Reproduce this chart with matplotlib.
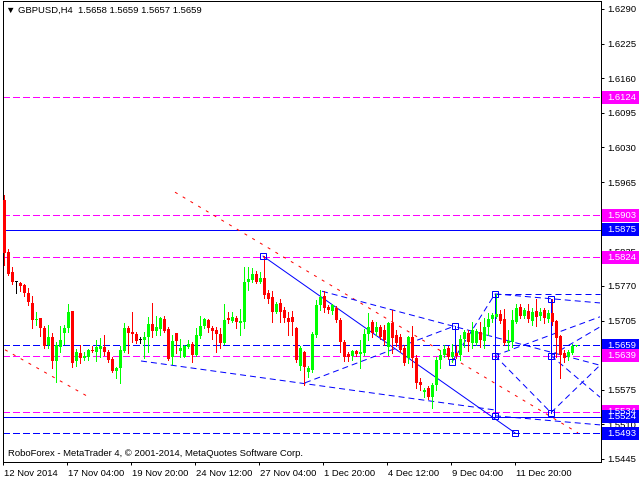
import matplotlib
matplotlib.use("Agg")
import matplotlib.pyplot as plt
from matplotlib.patches import Rectangle
import matplotlib.transforms as mtransforms

plt.rcParams["font.family"] = ["Liberation Sans", "DejaVu Sans"]

# GBPUSD H4 candles, one entry per bar (bar 0 = 12 Nov 2014 12:00)
opens = [
    1.5931, 1.5834, 1.5796, 1.5777, 1.5775, 1.5772, 1.5757, 1.5738, 1.5706, 1.5710,
    1.5691, 1.5659, 1.5674, 1.5629, 1.5655, 1.5682, 1.5691, 1.5723, 1.5629, 1.5644,
    1.5635, 1.5636, 1.5650, 1.5646, 1.5651, 1.5655, 1.5646, 1.5633, 1.5610, 1.5616,
    1.5648, 1.5691, 1.5683, 1.5680, 1.5668, 1.5668, 1.5674, 1.5698, 1.5685, 1.5689,
    1.5708, 1.5689, 1.5636, 1.5682, 1.5648, 1.5636, 1.5655, 1.5661, 1.5640, 1.5676,
    1.5695, 1.5706, 1.5691, 1.5687, 1.5680, 1.5663, 1.5710, 1.5704, 1.5710, 1.5700,
    1.5702, 1.5777, 1.5781, 1.5792, 1.5777, 1.5785, 1.5757, 1.5749, 1.5721, 1.5738,
    1.5725, 1.5710, 1.5712, 1.5691, 1.5619, 1.5646, 1.5608, 1.5612, 1.5678, 1.5734,
    1.5751, 1.5730, 1.5723, 1.5728, 1.5706, 1.5665, 1.5642, 1.5638, 1.5648, 1.5642,
    1.5644, 1.5680, 1.5702, 1.5683, 1.5693, 1.5687, 1.5655, 1.5700, 1.5678, 1.5674,
    1.5653, 1.5635, 1.5674, 1.5635, 1.5589, 1.5571, 1.5578, 1.5561, 1.5584, 1.5631,
    1.5640, 1.5653, 1.5636, 1.5644, 1.5640, 1.5670, 1.5682, 1.5663, 1.5663, 1.5683,
    1.5666, 1.5693, 1.5708, 1.5712, 1.5717, 1.5708, 1.5663, 1.5665, 1.5702, 1.5730,
    1.5713, 1.5723, 1.5704, 1.5723, 1.5713, 1.5725, 1.5708, 1.5719, 1.5704, 1.5676,
    1.5644, 1.5636, 1.5644, 1.5658,
]
highs = [
    1.5941, 1.5839, 1.5806, 1.5779, 1.5777, 1.5774, 1.5766, 1.5751, 1.5721, 1.5710,
    1.5695, 1.5697, 1.5682, 1.5665, 1.5695, 1.5697, 1.5736, 1.5723, 1.5651, 1.5659,
    1.5646, 1.5651, 1.5657, 1.5668, 1.5672, 1.5678, 1.5650, 1.5636, 1.5618, 1.5657,
    1.5700, 1.5695, 1.5721, 1.5683, 1.5674, 1.5683, 1.5712, 1.5738, 1.5713, 1.5712,
    1.5713, 1.5693, 1.5678, 1.5682, 1.5670, 1.5659, 1.5668, 1.5665, 1.5691, 1.5713,
    1.5710, 1.5708, 1.5695, 1.5693, 1.5691, 1.5736, 1.5721, 1.5721, 1.5713, 1.5727,
    1.5806, 1.5806, 1.5804, 1.5798, 1.5796, 1.5826, 1.5762, 1.5760, 1.5740, 1.5745,
    1.5730, 1.5721, 1.5723, 1.5693, 1.5657, 1.5648, 1.5619, 1.5683, 1.5744, 1.5762,
    1.5760, 1.5734, 1.5736, 1.5732, 1.5710, 1.5668, 1.5646, 1.5650, 1.5650, 1.5668,
    1.5689, 1.5719, 1.5706, 1.5702, 1.5697, 1.5697, 1.5702, 1.5725, 1.5687, 1.5680,
    1.5659, 1.5676, 1.5695, 1.5640, 1.5597, 1.5578, 1.5582, 1.5588, 1.5636, 1.5650,
    1.5659, 1.5657, 1.5661, 1.5659, 1.5678, 1.5687, 1.5687, 1.5702, 1.5689, 1.5702,
    1.5710, 1.5719, 1.5719, 1.5755, 1.5725, 1.5727, 1.5687, 1.5725, 1.5736, 1.5736,
    1.5728, 1.5736, 1.5728, 1.5745, 1.5728, 1.5728, 1.5725, 1.5745, 1.5706, 1.5678,
    1.5650, 1.5650, 1.5660, 1.5659,
]
lows = [
    1.5809, 1.5790, 1.5774, 1.5757, 1.5760, 1.5751, 1.5734, 1.5691, 1.5697, 1.5676,
    1.5653, 1.5653, 1.5616, 1.5589, 1.5646, 1.5661, 1.5683, 1.5618, 1.5619, 1.5625,
    1.5631, 1.5631, 1.5646, 1.5629, 1.5636, 1.5640, 1.5627, 1.5608, 1.5597, 1.5588,
    1.5646, 1.5644, 1.5665, 1.5663, 1.5663, 1.5635, 1.5646, 1.5674, 1.5678, 1.5678,
    1.5683, 1.5631, 1.5623, 1.5644, 1.5636, 1.5636, 1.5653, 1.5627, 1.5638, 1.5672,
    1.5691, 1.5683, 1.5670, 1.5646, 1.5653, 1.5661, 1.5700, 1.5702, 1.5691, 1.5678,
    1.5691, 1.5762, 1.5777, 1.5775, 1.5775, 1.5747, 1.5738, 1.5702, 1.5719, 1.5702,
    1.5702, 1.5678, 1.5678, 1.5627, 1.5612, 1.5584, 1.5599, 1.5608, 1.5674, 1.5725,
    1.5721, 1.5719, 1.5717, 1.5702, 1.5646, 1.5629, 1.5629, 1.5631, 1.5638, 1.5616,
    1.5640, 1.5668, 1.5674, 1.5678, 1.5670, 1.5659, 1.5640, 1.5644, 1.5657, 1.5646,
    1.5621, 1.5625, 1.5618, 1.5578, 1.5574, 1.5561, 1.5557, 1.5541, 1.5574, 1.5616,
    1.5636, 1.5633, 1.5627, 1.5635, 1.5631, 1.5655, 1.5648, 1.5653, 1.5659, 1.5655,
    1.5653, 1.5678, 1.5702, 1.5710, 1.5700, 1.5659, 1.5650, 1.5655, 1.5700, 1.5710,
    1.5710, 1.5702, 1.5697, 1.5695, 1.5706, 1.5700, 1.5702, 1.5697, 1.5636, 1.5597,
    1.5627, 1.5631, 1.5642, 1.5657,
]
closes = [
    1.5832, 1.5792, 1.5777, 1.5777, 1.5770, 1.5757, 1.5740, 1.5706, 1.5708, 1.5691,
    1.5657, 1.5674, 1.5629, 1.5659, 1.5668, 1.5691, 1.5721, 1.5625, 1.5646, 1.5635,
    1.5638, 1.5650, 1.5648, 1.5655, 1.5657, 1.5646, 1.5631, 1.5610, 1.5616, 1.5650,
    1.5691, 1.5682, 1.5680, 1.5666, 1.5668, 1.5674, 1.5698, 1.5685, 1.5693, 1.5710,
    1.5685, 1.5633, 1.5666, 1.5666, 1.5653, 1.5657, 1.5661, 1.5640, 1.5678, 1.5695,
    1.5708, 1.5691, 1.5685, 1.5680, 1.5663, 1.5706, 1.5706, 1.5712, 1.5702, 1.5704,
    1.5777, 1.5783, 1.5792, 1.5777, 1.5785, 1.5753, 1.5745, 1.5721, 1.5736, 1.5721,
    1.5710, 1.5702, 1.5702, 1.5631, 1.5653, 1.5618, 1.5616, 1.5680, 1.5734, 1.5749,
    1.5728, 1.5725, 1.5734, 1.5706, 1.5665, 1.5636, 1.5636, 1.5648, 1.5642, 1.5646,
    1.5680, 1.5693, 1.5682, 1.5693, 1.5674, 1.5668, 1.5700, 1.5672, 1.5663, 1.5650,
    1.5625, 1.5674, 1.5635, 1.5588, 1.5584, 1.5574, 1.5561, 1.5584, 1.5631, 1.5640,
    1.5651, 1.5636, 1.5646, 1.5638, 1.5670, 1.5683, 1.5665, 1.5687, 1.5685, 1.5668,
    1.5693, 1.5708, 1.5715, 1.5717, 1.5704, 1.5663, 1.5666, 1.5706, 1.5728, 1.5713,
    1.5725, 1.5708, 1.5721, 1.5712, 1.5721, 1.5710, 1.5719, 1.5702, 1.5672, 1.5640,
    1.5635, 1.5646, 1.5658, 1.5659,
]

date_labels = ["12 Nov 2014", "17 Nov 04:00", "19 Nov 20:00", "24 Nov 12:00", "27 Nov 04:00",
               "1 Dec 20:00", "4 Dec 12:00", "9 Dec 04:00", "11 Dec 20:00"]
date_bars = [0, 16, 32, 48, 64, 80, 96, 112, 128]
price_ticks = [1.5445, 1.5510, 1.5575, 1.5640, 1.5705, 1.5770, 1.5835, 1.5900,
               1.5965, 1.6030, 1.6095, 1.6160, 1.6225, 1.6290]
hidden_ticks = [1.5640, 1.5900]  # fully covered by price tags in the terminal

# horizontal levels: price, colour, style (tags drawn in this order)
level_prices = [1.6124, 1.5903, 1.5875, 1.5824, 1.5659, 1.5639, 1.5534, 1.5524, 1.5493]
level_colors = ["#FF00FF", "#FF00FF", "#0000FF", "#FF00FF", "#0000FF", "#FF00FF",
                "#FF00FF", "#0000FF", "#0000FF"]
level_solid = [False, False, True, False, False, False, False, True, False]

# analyst drawings in (bar, price)
solid_segments = [
    ((64.75, 1.5826), (127.75, 1.5494)),
    ((122.75, 1.5755), (122.75, 1.5526)),
    ((136.75, 1.5745), (136.75, 1.5532)),
    ((112.75, 1.5695), (112.75, 1.5640)),
]
dashed_segments = [
    ((34.25, 1.5629), (122.75, 1.5537)),
    ((79.5, 1.5760), (149.0, 1.5621)),
    ((75.25, 1.5588), (112.75, 1.5695)),
    ((122.75, 1.5755), (149.0, 1.5755)),
    ((122.75, 1.5755), (149.0, 1.5738)),
    ((136.75, 1.5639), (149.0, 1.5693)),
    ((136.75, 1.5639), (149.0, 1.5561)),
    ((136.75, 1.5532), (149.0, 1.5621)),
    ((122.75, 1.5526), (149.0, 1.5509)),
    ((112.0, 1.5627), (122.75, 1.5755)),
    ((122.75, 1.5639), (149.0, 1.5712)),
    ((122.75, 1.5639), (136.75, 1.5532)),
]
red_segments = [
    ((42.75, 1.5946), (143.5, 1.5494)),
    ((0.25, 1.5650), (21.5, 1.5560)),
]
markers = [(64.75, 1.5826), (122.75, 1.5755), (122.75, 1.5639), (122.75, 1.5526),
           (136.75, 1.5745), (136.75, 1.5639), (136.75, 1.5532), (127.75, 1.5494),
           (112.75, 1.5695), (112.0, 1.5627)]

W, H = 640, 480
PX = 0.72  # one pixel in points
fig = plt.figure(figsize=(6.4, 4.8), dpi=100)
ax = fig.add_axes([2.5 / W, 18 / H, 598.5 / W, 461 / H])
ax.set_xlim(-0.375, 149.25)
ax.set_ylim(1.54393, 1.6305)

# levels
for p, c, s in zip(level_prices, level_colors, level_solid):
    if s:
        ax.axhline(p, color=c, lw=PX, zorder=1, antialiased=False)
    else:
        ax.axhline(p, color=c, lw=PX, dashes=(6, 4), zorder=1, antialiased=False)

for (x0, y0), (x1, y1) in red_segments:
    ax.plot([x0, x1], [y0, y1], color="#FF0000", lw=PX, dashes=(3, 6), zorder=1)
for (x0, y0), (x1, y1) in dashed_segments:
    ax.plot([x0, x1], [y0, y1], color="#0000FF", lw=PX, dashes=(6, 4), zorder=1)
for (x0, y0), (x1, y1) in solid_segments:
    ax.plot([x0, x1], [y0, y1], color="#0000FF", lw=PX, zorder=1)
ax.plot([m[0] for m in markers], [m[1] for m in markers], "s", ms=4.5,
        mfc="none", mec="#0000FF", mew=PX, zorder=4)

# candles
for i, (o, h, l, c) in enumerate(zip(opens, highs, lows, closes)):
    if c > o:
        col = "#00FF00"
    elif c < o:
        col = "#FF0000"
    else:
        col = "#000000"
    ax.vlines(i, l, h, color=col, lw=PX, zorder=3, antialiased=False)
    body = max(abs(c - o), 0.00015)
    ax.bar(i, body, width=0.75, bottom=min(o, c), color=col, lw=0, zorder=3,
           antialiased=False)

# axes style
for sp in ax.spines.values():
    sp.set_color("black")
    sp.set_linewidth(PX)
ax.yaxis.tick_right()
ax.set_yticks(price_ticks)
ax.set_yticklabels(["" if p in hidden_ticks else f"{p:.4f}" for p in price_ticks])
ax.tick_params(axis="y", direction="out", length=2.5, width=PX, pad=2, labelsize=6.8)
ax.set_xticks([b - 0.3 for b in date_bars])
ax.set_xticklabels(date_labels)
ax.tick_params(axis="x", direction="out", length=2.5, width=PX, pad=2.5, labelsize=6.8)
offset = mtransforms.ScaledTranslation(1 / 100, 0, fig.dpi_scale_trans)
for lab in ax.get_xticklabels():
    lab.set_horizontalalignment("left")
    lab.set_transform(lab.get_transform() + offset)

# price tags on the right scale
tag_tr = mtransforms.blended_transform_factory(ax.transAxes, ax.transData)
px_y = (1.6305 - 1.54393) / 461
for p, c in zip(level_prices, level_colors):
    ax.add_patch(Rectangle((599.5 / 598.5, p - 6.5 * px_y), 36.5 / 598.5, 13 * px_y,
                           transform=tag_tr, facecolor=c, edgecolor="none",
                           clip_on=False, zorder=5))
    ax.text(604.5 / 598.5, p, f"{p:.4f}", transform=tag_tr, color="white",
            fontsize=6.8, va="center", ha="left", clip_on=False, zorder=6)

ax.text(4 / 598.5, 1 - 9 / 461, "\u25bc GBPUSD,H4  1.5658 1.5659 1.5657 1.5659",
        transform=ax.transAxes, fontsize=6.8, va="center", ha="left")
ax.text(5 / 598.5, 8 / 461, "RoboForex - MetaTrader 4, \u00a9 2001-2014, MetaQuotes Software Corp.",
        transform=ax.transAxes, fontsize=6.8, va="center", ha="left")

fig.savefig("out.png", dpi=100)
